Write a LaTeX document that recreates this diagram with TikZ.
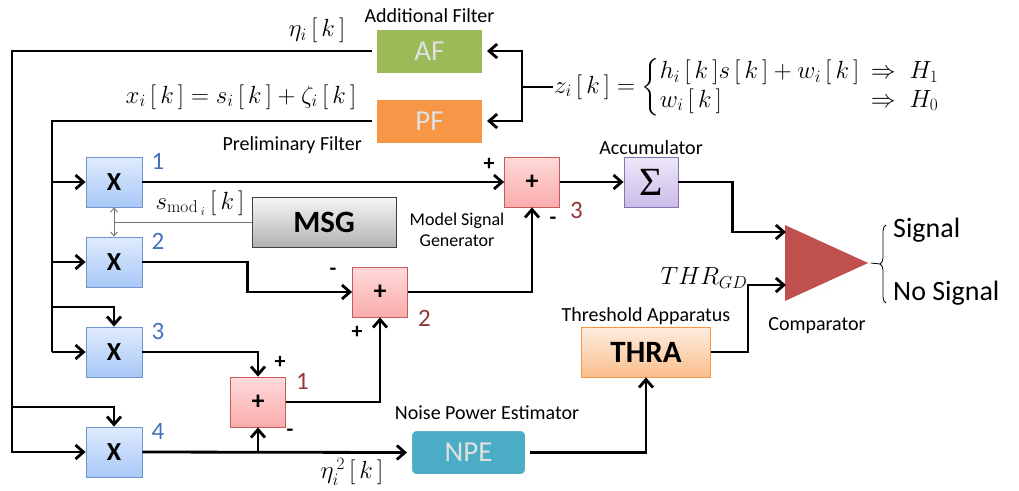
\documentclass[tikz,border=0pt]{standalone}
\usepackage{amsmath,amssymb}
\usepackage[no-math]{fontspec}
\setmainfont{Carlito}
\newfontfamily\sigmafont{Liberation Serif}
\usepackage{tikz}
\usetikzlibrary{positioning,arrows.meta,calc,shapes.geometric,shadows,decorations.pathreplacing}
\usepackage{xcolor}
\definecolor{mulblueTop}{RGB}{224,235,252}
\definecolor{mulblueBot}{RGB}{168,200,248}
\definecolor{mulblueLine}{RGB}{112,150,205}
\definecolor{sumpinkTop}{RGB}{255,218,218}
\definecolor{sumpinkBot}{RGB}{250,172,172}
\definecolor{sumpinkLine}{RGB}{200,90,90}
\definecolor{afgreen}{RGB}{155,187,89}
\definecolor{pforange}{RGB}{247,150,70}
\definecolor{npeteal}{RGB}{75,172,198}
\definecolor{accTop}{RGB}{238,231,249}
\definecolor{accBot}{RGB}{202,188,233}
\definecolor{accLine}{RGB}{135,115,178}
\definecolor{msgTop}{RGB}{246,246,246}
\definecolor{msgBot}{RGB}{178,178,178}
\definecolor{thraTop}{RGB}{254,237,223}
\definecolor{thraBot}{RGB}{250,190,140}
\definecolor{comparred}{RGB}{192,80,77}
\definecolor{numblue}{RGB}{68,114,186}
\definecolor{numred}{RGB}{150,55,55}
\newcommand{\sizept}[1]{\fontsize{#1}{#1}\selectfont}
\newcommand{\kidx}{\,[\,k\,]}

\begin{document}
\begin{tikzpicture}[
  x=1pt,y=-1pt,
  >={Straight Barb[length=8pt,width=14pt]},
  wire/.style={line width=2.8pt,black},
  thinwire/.style={line width=0.9pt,black!55},
  mulbox/.style={draw=mulblueLine,line width=0.8pt,top color=mulblueTop,bottom color=mulblueBot,minimum width=56pt,minimum height=50pt,inner sep=0pt,font=\sizept{26}\bfseries},
  sumbox/.style={draw=sumpinkLine,line width=0.8pt,top color=sumpinkTop,bottom color=sumpinkBot,minimum width=55pt,minimum height=50pt,inner sep=0pt,font=\sizept{26}\bfseries},
  filt/.style={draw=white,line width=5pt,minimum width=110pt,minimum height=48pt,inner sep=0pt,text=white!88!black,font=\sizept{29},drop shadow={opacity=0.35,shadow xshift=1.5pt,shadow yshift=-2pt}},
  blockbox/.style={line width=0.8pt,inner sep=0pt,minimum height=50pt,font=\sizept{31}\bfseries},
  lab/.style={font=\sizept{20},inner sep=1pt},
  mlab/.style={font=\sizept{24},inner sep=1pt},
  bnum/.style={font=\sizept{25},text=numblue,inner sep=0pt,anchor=west},
  rnum/.style={font=\sizept{25},text=numred,inner sep=0pt,anchor=west},
  sgn/.style={font=\sizept{22}\bfseries,inner sep=0pt}
]
\useasboundingbox (0,0) rectangle (1019,490);

% Filters
\node[filt,fill=afgreen] (af) at (429.5,51) {AF};
\node[lab,above=1pt of af] (aflab) {Additional Filter};
\node[filt,fill=pforange] (pf) at (429.5,121) {PF};
\node[lab,anchor=east] (pflab) at (363,145) {Preliminary Filter};

% Received signal z_i[k]
\node[mlab,anchor=west] (zeq) at (553,87) {$z_i\kidx=\begin{cases}h_i\kidx s\kidx+w_i\kidx & \!\!\!\Rightarrow\; H_1\\ w_i\kidx & \!\!\!\Rightarrow\; H_0\end{cases}$};
\coordinate (zsplit) at (522,87);
\draw[wire] (zeq.west) -- (zsplit);
\draw[wire,->] (zsplit) |- (af.east);
\draw[wire,->] (zsplit) |- (pf.east);

% Multipliers
\node[mulbox] (x1) at (114,182) {X};
\node[mulbox] (x2) at (114,262) {X};
\node[mulbox] (x3) at (114,352) {X};
\node[mulbox] (x4) at (114,452) {X};
\node[bnum] (n1) at ($(x1.north east)+(9,5)$) {1};
\node[bnum] (n2) at ($(x2.north east)+(9,5)$) {2};
\node[bnum] (n3) at ($(x3.north east)+(9,5)$) {3};
\node[bnum] (n4) at ($(x4.north east)+(9,5)$) {4};

% Adders
\node[sumbox] (sum1) at (258,402) {+};
\node[sumbox] (sum2) at (380,292) {+};
\node[sumbox] (sum3) at (532,182) {+};
\node[rnum] (r1) at ($(sum1.north east)+(10,5)$) {1};
\node[rnum] (r2) at ($(sum2.south east)+(10,1)$) {2};
\node[rnum] (r3) at ($(sum3.south east)+(10,3)$) {3};

% Model signal generator
\node[blockbox,draw=black!75,top color=msgTop,bottom color=msgBot,minimum width=144pt] (msg) at (324,222) {MSG};
\node[font=\fontsize{18}{21}\selectfont,align=center] (msglab) at (457,230) {Model Signal\\Generator};

% Accumulator, threshold, noise power
\node[blockbox,draw=accLine,top color=accTop,bottom color=accBot,minimum width=54pt,font=\sigmafont\sizept{40}] (acc) at (651,182) {Σ};
\node[lab,above=1pt of acc] (acclab) {Accumulator};
\node[blockbox,draw=pforange,top color=thraTop,bottom color=thraBot,minimum width=129pt] (thra) at (646,352) {THRA};
\node[lab,above=1pt of thra] (thralab) {Threshold Apparatus};
\node[filt,fill=npeteal,rounded corners=7pt,minimum width=118pt] (npe) at (468.5,452.5) {NPE};
\node[lab] (npelab) at (487,413) {Noise Power Estimator};

% Comparator
\node[isosceles triangle,isosceles triangle stretches,minimum width=84pt,minimum height=92pt,inner sep=0pt,
      fill=comparred,draw=white,line width=5pt,line join=round,anchor=apex,
      drop shadow={opacity=0.3,shadow xshift=1.5pt,shadow yshift=-2pt}] (cmp) at (881,263) {};
\node[lab] (cmplab) at (817,326) {Comparator};
\coordinate (cmpA) at ($(cmp.west)+(6,-31)$);
\coordinate (cmpB) at ($(cmp.west)+(6,22)$);

% Input buses
\coordinate (etabus) at (12,407);
\coordinate (xbus) at (52,307);
\draw[wire,->] (af.west) -| (etabus) |- (x4.west);
\draw[wire,->] (etabus) -| (x4.north);
\draw[wire] (pf.west) -| (xbus |- x3.west);
\draw[wire,->] (xbus |- x1.west) -- (x1.west);
\draw[wire,->] (xbus |- x2.west) -- (x2.west);
\draw[wire,->] (xbus |- x3.west) -- (x3.west);
\draw[wire,->] (xbus) -| (x3.north);
\node[mlab,anchor=south] (etalab) at (317,44) {$\eta_i\kidx$};
\node[mlab] (xlab) at (241,97) {$x_i\kidx=s_i\kidx+\zeta_i\kidx$};

% Model signal to multipliers 1 and 2
\draw[thinwire] (msg.west) -- (msg.west -| x1.south);
\draw[thinwire,<->,>={Straight Barb[length=4pt,width=7pt]}] (x1.south) -- (x2.north);
\node[mlab] (smodlab) at (200,203) {$s_{\mathrm{mod}_{\;i}}\kidx$};

% Signal paths
\draw[wire,->] (x1.east) -- (sum3.west);
\draw[wire,->] (x2.east) -- ++(105,0) |- (sum2.west);
\draw[wire,->] (x3.east) -| (sum1.north);
\draw[wire,->] (x4.east) -- (npe.west);
\draw[wire,->] (x4.east -| sum1.south) -- (sum1.south);
\draw[wire,->] (sum1.east) -| (sum2.south);
\draw[wire,->] (sum2.east) -| (sum3.south);
\draw[wire,->] (sum3.east) -- (acc.west);
\draw[wire,->] (acc.east) -- ++(54,0) |- (cmpA);
\draw[wire,->] (npe.east) -| (thra.south);
\draw[wire,->] (thra.east) -- ++(37,0) |- (cmpB);
\node[mlab] (etasq) at (352,472) {$\eta_i^{\,2}\kidx$};
\node[mlab] (thrlab) at (704,278) {$THR_{GD}$};

% Signs at adder inputs
\node[sgn] at (489,164) {+};
\node[sgn] at (553,221) {-};
\node[sgn] at (333,272) {-};
\node[sgn] at (357,332) {+};
\node[sgn] at (280,362) {+};
\node[sgn] at (290,433) {-};

% Decision
\coordinate (brtop) at (886,225);
\coordinate (brbot) at (886,303);
\draw[line width=0.8pt,decorate,decoration={brace,amplitude=6pt}] (brbot) -- (brtop);
\draw[line width=0.8pt] ($(cmp.apex)+(-10,0)$) -- ($(brtop)!0.5!(brbot)+(-6,0)$);
\node[font=\sizept{28},anchor=west,inner sep=0pt] (sig) at (893,230) {Signal};
\node[font=\sizept{28},anchor=west,inner sep=0pt] (nosig) at (893,293) {No Signal};
\end{tikzpicture}
\end{document}
